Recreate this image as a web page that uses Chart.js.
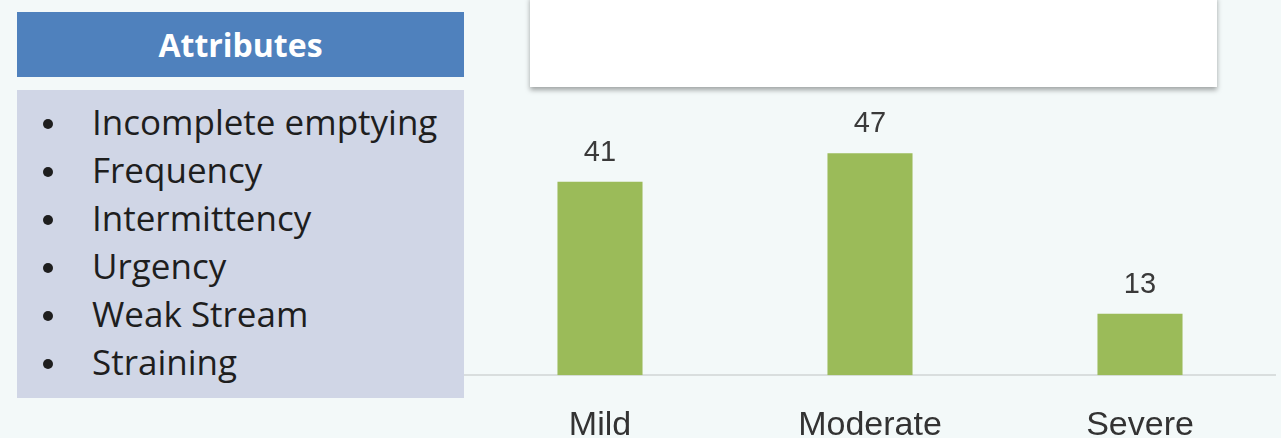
<!DOCTYPE html>
<html>
<head>
<meta charset="utf-8">
<script src="https://cdn.jsdelivr.net/npm/chart.js@4/dist/chart.umd.min.js"></script>
<style>
  html, body { margin: 0; padding: 0; background: #f3f9f9; }
  #wrap { position: relative; width: 1281px; height: 438px; overflow: hidden; font-family: "Open Sans", Lato, sans-serif; }
  #chart { position: absolute; left: 0; top: 0; }
  .head { position: absolute; left: 17px; top: 12px; width: 447px; height: 65px; background: #4f81bd;
    color: #fff; font-weight: bold; font-size: 32px; line-height: 65px; text-align: center; }
  .body { position: absolute; left: 17px; top: 90px; width: 447px; height: 308px; background: #d0d6e6; }
  .body ul { list-style: none; margin: 0; padding: 0; position: absolute; left: 0; top: 8px; }
  .body li { position: relative; height: 48px; line-height: 48px; font-size: 35px; color: #1e1e1e; padding-left: 75px; white-space: nowrap; }
  .body li:before { content: ""; position: absolute; left: 26px; top: 21px; width: 10px; height: 10px; border-radius: 50%; background: #1e1e1e; }
  .card { position: absolute; left: 530px; top: -4px; width: 687px; height: 91px; background: #fff;
    box-shadow: 0 3px 5px rgba(0,0,0,0.35); }
</style>
</head>
<body>
<div id="wrap">
  <canvas id="chart" width="1281" height="438"></canvas>
  <div class="card"></div>
  <div class="head">Attributes</div>
  <div class="body"><ul id="attrs"></ul></div>
</div>
<script>
const categories = ["Mild", "Moderate", "Severe"];
const counts = [41, 47, 13];
const attributes = ["Incomplete emptying", "Frequency", "Intermittency", "Urgency", "Weak Stream", "Straining"];

const list = document.getElementById("attrs");
attributes.forEach((a) => {
  const li = document.createElement("li");
  li.textContent = a;
  list.appendChild(li);
});

// values written above each bar
const valueLabels = {
  id: "valueLabels",
  afterDatasetsDraw(chart) {
    const ctx = chart.ctx;
    const meta = chart.getDatasetMeta(0);
    ctx.save();
    ctx.font = "29px 'Liberation Sans', Arial, sans-serif";
    ctx.fillStyle = "#3a3a3a";
    ctx.textAlign = "center";
    ctx.textBaseline = "alphabetic";
    meta.data.forEach((bar, i) => {
      ctx.fillText(chart.data.datasets[0].data[i], bar.x, bar.y - 21);
    });
    ctx.restore();
  },
};

new Chart(document.getElementById("chart"), {
  type: "bar",
  data: {
    labels: categories,
    datasets: [
      {
        data: counts,
        backgroundColor: "#9bbb59",
        barPercentage: 0.63,
        categoryPercentage: 0.5,
      },
    ],
  },
  options: {
    responsive: false,
    animation: false,
    layout: { padding: { left: 465, right: 6, top: 92, bottom: -30 } },
    plugins: { legend: { display: false }, tooltip: { enabled: false } },
    scales: {
      x: {
        grid: { display: false },
        border: { display: true, color: "#d9dede", width: 2 },
        ticks: { color: "#333", font: { family: "'Liberation Sans', Arial", size: 34 }, padding: 22 },
      },
      y: { display: false, min: 0, max: 60 },
    },
  },
  plugins: [valueLabels],
});
</script>
</body>
</html>
